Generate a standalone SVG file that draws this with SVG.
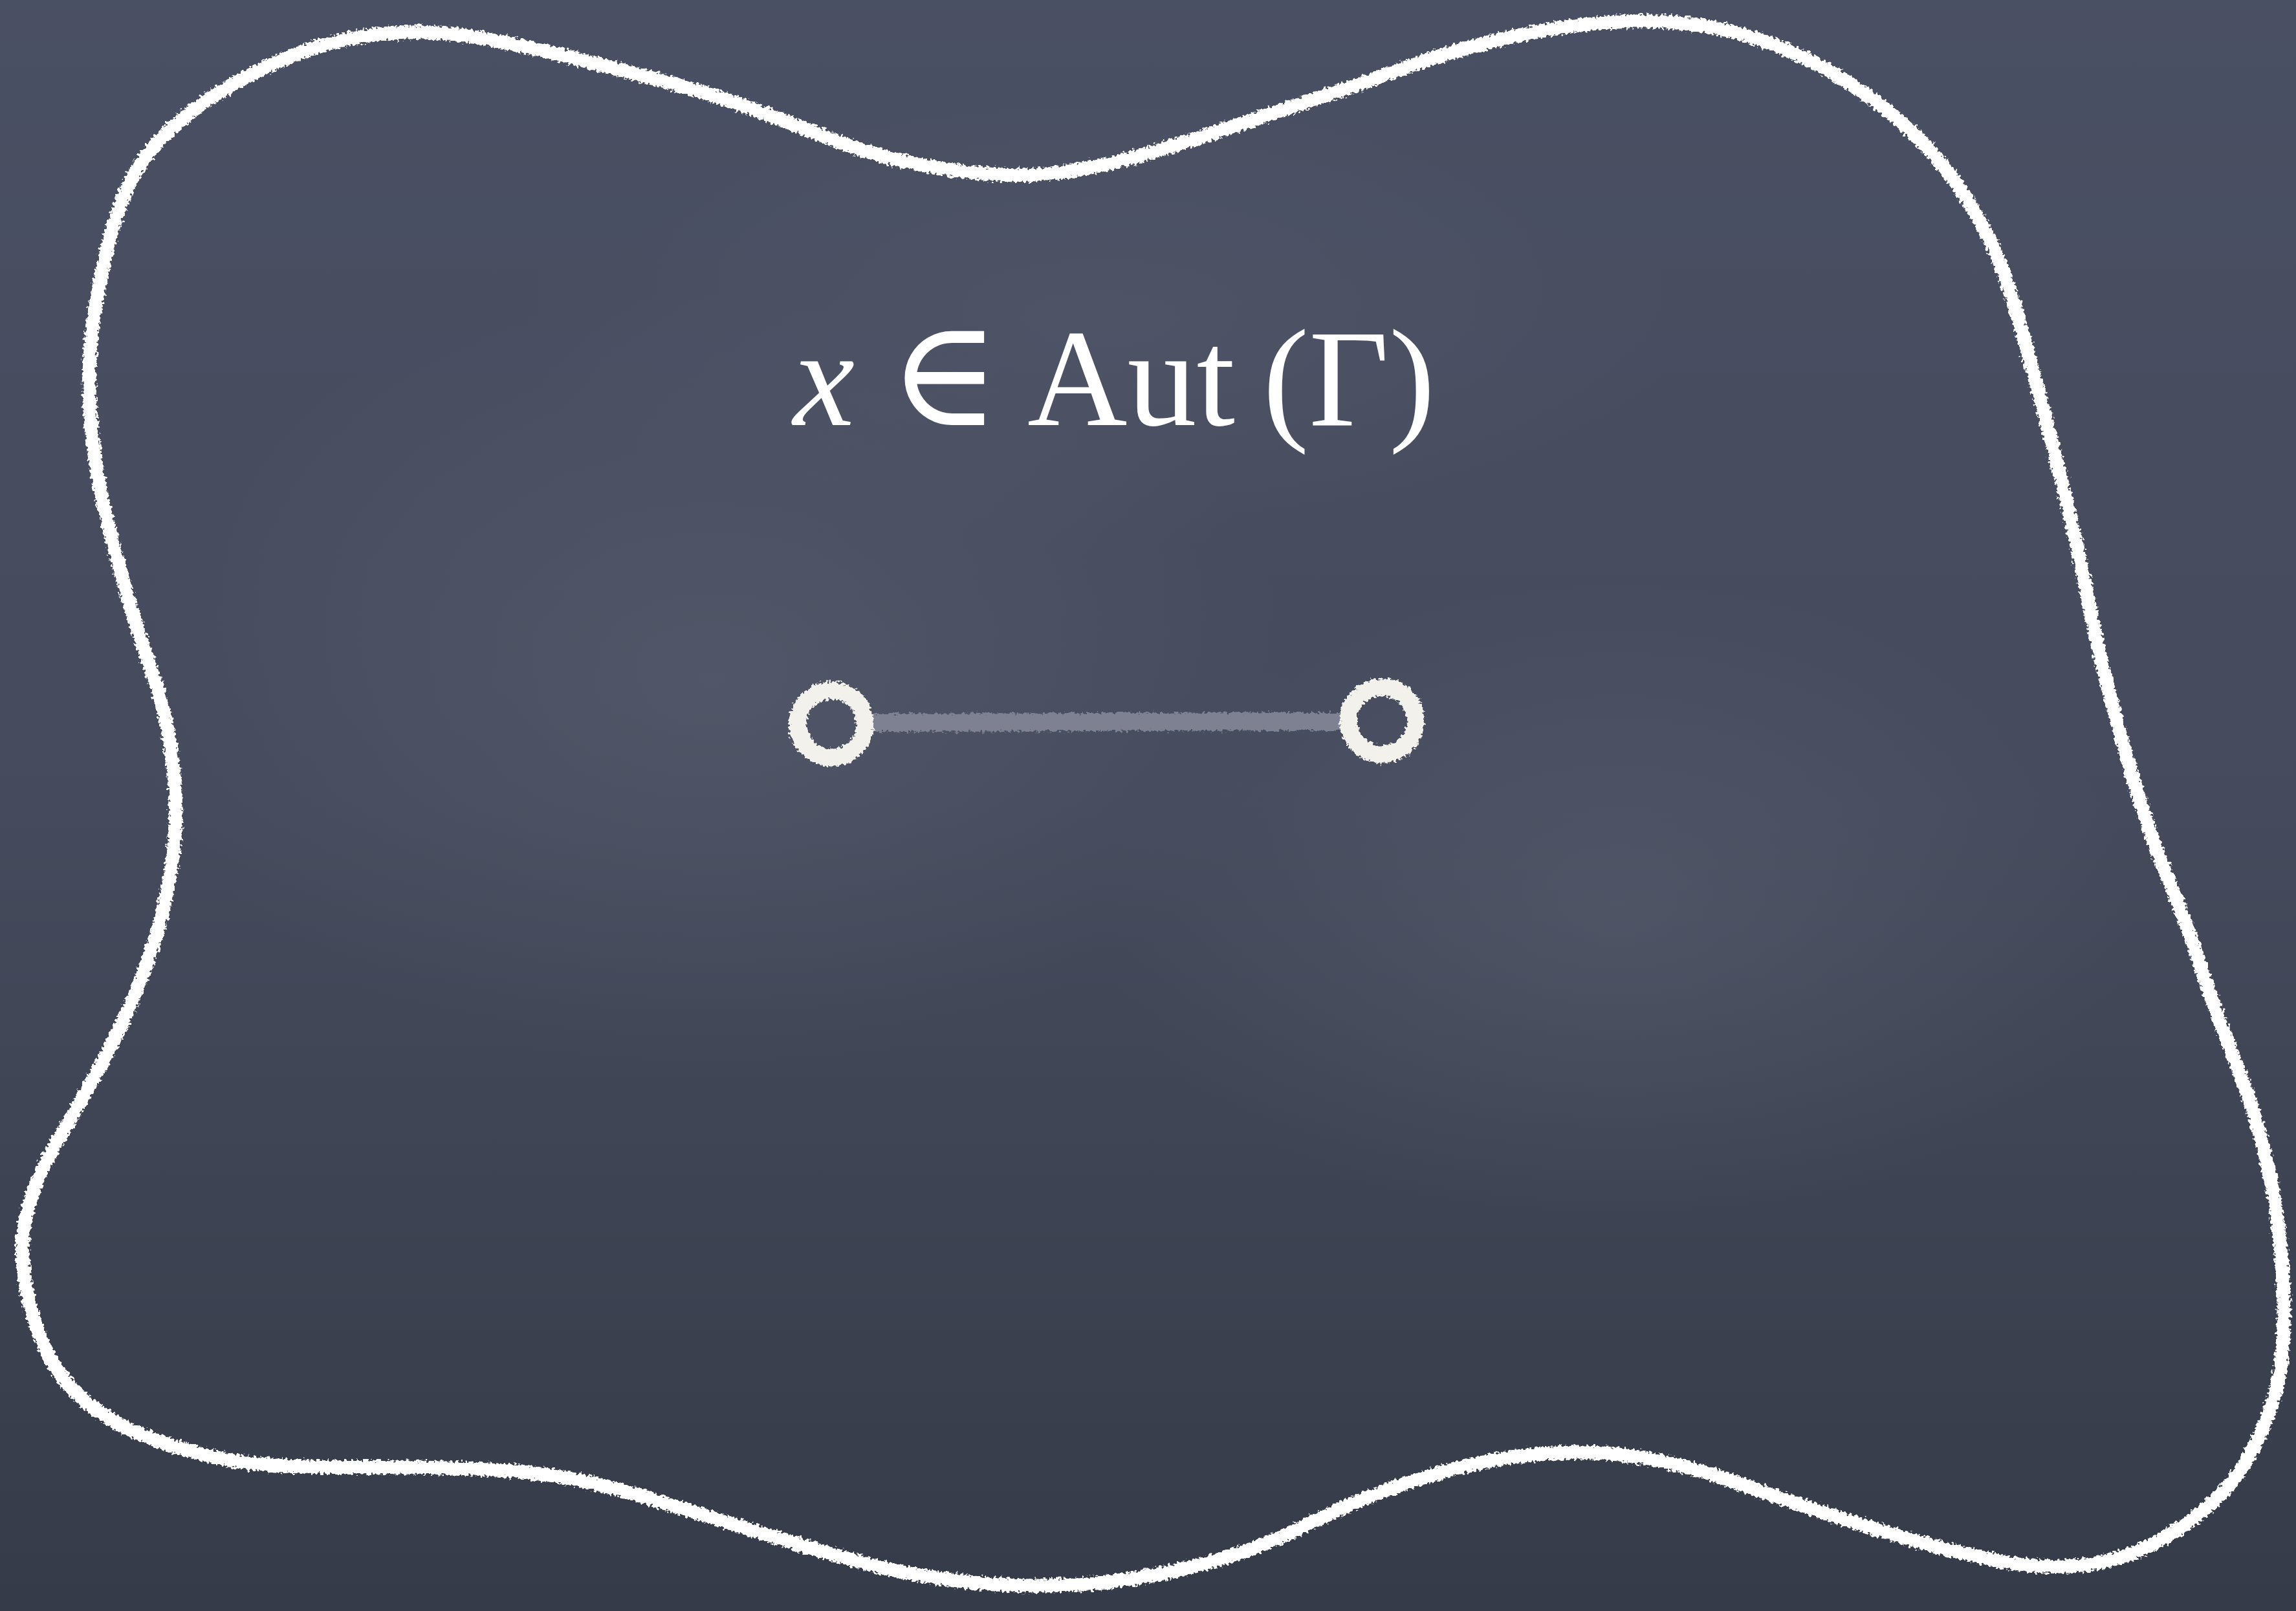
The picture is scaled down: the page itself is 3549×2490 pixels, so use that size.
<svg xmlns="http://www.w3.org/2000/svg" width="3549" height="2490" viewBox="0 0 3549 2490">
  <defs>
    <linearGradient id="bg" x1="0" y1="0" x2="0" y2="1">
      <stop offset="0" stop-color="#4a5063"/>
      <stop offset="0.5" stop-color="#454b5c"/>
      <stop offset="1" stop-color="#363b49"/>
    </linearGradient>
    <radialGradient id="smudge" cx="0.5" cy="0.5" r="0.5">
      <stop offset="0" stop-color="#6a7080" stop-opacity="0.3"/>
      <stop offset="1" stop-color="#6a7080" stop-opacity="0"/>
    </radialGradient>
    <filter id="chalk" filterUnits="userSpaceOnUse" x="0" y="0" width="3549" height="2490">
      <feTurbulence type="fractalNoise" baseFrequency="0.22" numOctaves="2" seed="3" result="n"/>
      <feDisplacementMap in="SourceGraphic" in2="n" scale="12" xChannelSelector="R" yChannelSelector="G"/>
    </filter>
    <style>
      .chalk { fill: none; stroke: #ffffff; stroke-width: 21; stroke-linejoin: round; stroke-linecap: round; }
      .ring { fill: none; stroke: #f3f1ec; stroke-width: 27; }
      .edge { stroke: #7d8191; stroke-width: 28; stroke-linecap: butt; }
      .math { fill: #ffffff; font-family: "Liberation Serif", "Times New Roman", serif; font-size: 214px; }
    </style>
  </defs>

  <rect x="0" y="0" width="3549" height="2490" fill="url(#bg)"/>
  <ellipse cx="1100" cy="1050" rx="900" ry="600" fill="url(#smudge)"/>
  <ellipse cx="2500" cy="1400" rx="800" ry="500" fill="url(#smudge)"/>
  <ellipse cx="1700" cy="500" rx="900" ry="350" fill="url(#smudge)" opacity="0.6"/>

  <g id="boundary">
    <path class="chalk" filter="url(#chalk)" d="M210,265 Q230,230 268,195.5 Q306,161 363.5,128.5 Q421,96 478.5,76.5 Q536,57 601,51.5 Q666,46 734.5,57.5 Q803,69 879.5,88 Q956,107 1028,126 Q1100,145 1162,168 Q1224,191 1286.5,215.5 Q1349,240 1411,252.5 Q1473,265 1535,269.5 Q1597,274 1659.5,263.5 Q1722,253 1784,234.5 Q1846,216 1908,195 Q1970,174 2032.5,153.5 Q2095,133 2157,110 Q2219,87 2281.5,70.5 Q2344,54 2402,44.5 Q2460,35 2519.5,33 Q2579,31 2636.5,40.5 Q2694,50 2751.5,73 Q2809,96 2866.5,134 Q2924,172 2962,210.5 Q3000,249 3027,287.5 Q3054,326 3077,373.5 Q3100,421 3125,510.5 Q3150,600 3177,705 Q3204,810 3224.5,912 Q3245,1014 3265.5,1090.5 Q3286,1167 3306.5,1233.5 Q3327,1300 3352.5,1361 Q3378,1422 3403.5,1499 Q3429,1576 3459.5,1652.5 Q3490,1729 3508,1814.5 Q3526,1900 3529.5,1994 Q3533,2088 3519,2144.5 Q3505,2201 3472.5,2257.5 Q3440,2314 3370.5,2361 Q3301,2408 3232,2417.5 Q3163,2427 3093.5,2413.5 Q3024,2400 2954.5,2380 Q2885,2360 2816,2337 Q2747,2314 2673.5,2288 Q2600,2262 2525.5,2251 Q2451,2240 2368,2248.5 Q2285,2257 2192.5,2286.5 Q2100,2316 2023,2355.5 Q1946,2395 1855.5,2418.5 Q1765,2442 1674.5,2448.5 Q1584,2455 1492,2444.5 Q1400,2434 1330,2414.5 Q1260,2395 1188,2373 Q1116,2351 1027,2323 Q938,2295 871,2283.5 Q804,2272 714.5,2269.5 Q625,2267 513.5,2267.5 Q402,2268 335,2253 Q268,2238 214.5,2215.5 Q161,2193 125,2159.5 Q89,2126 71.5,2088 Q54,2050 45,2012.5 Q36,1975 34.5,1937.5 Q33,1900 47,1855 Q61,1810 91.5,1759 Q122,1708 158,1642 Q194,1576 219.5,1509.5 Q245,1443 257.5,1381.5 Q270,1320 271.5,1269 Q273,1218 264,1157 Q255,1096 237,1045 Q219,994 199,927.5 Q179,861 161,784.5 Q143,708 139,629 Q135,550 147.5,475 Q160,400 175,350 Q190,300 210,265 Z"/>
  </g>

  <g id="label">
    <text class="math" x="1226" y="657" font-style="italic">x</text>
    <text class="math" x="1374" y="657" style="font-family: 'DejaVu Serif', serif; font-size: 232px;">∈</text>
    <text class="math" x="1588" y="657">Aut</text>
    <text class="math" x="1952" y="657">(Γ)</text>
  </g>

  <g id="connectors">
    <line class="edge" filter="url(#chalk)" x1="1345" y1="1117" x2="2075" y2="1115"/>
  </g>

  <g id="node-1">
    <circle class="ring" filter="url(#chalk)" cx="1285" cy="1119" r="52"/>
  </g>
  <g id="node-2">
    <circle class="ring" filter="url(#chalk)" cx="2136" cy="1114" r="52"/>
  </g>
</svg>
